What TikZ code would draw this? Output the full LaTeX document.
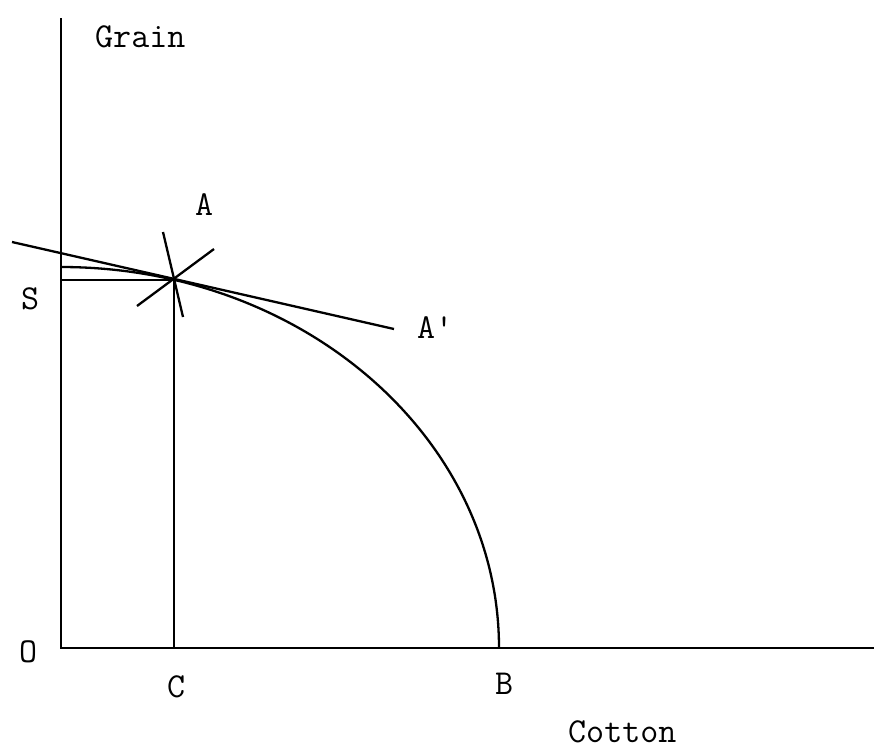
\documentclass[tikz,border=0pt]{standalone}
\begin{document}
\begin{tikzpicture}[x=1pt,y=-1pt,
  axis/.style={line width=2.8pt},
  curve/.style={line width=2.3pt},
  lab/.style={anchor=base west,inner sep=0pt,font=\fontsize{35}{40}\selectfont\ttfamily}]
\useasboundingbox (0,0) rectangle (874,750);
% points
\coordinate (O) at (61,648);
\coordinate (Ytop) at (61,18);
\coordinate (Xend) at (874,648);
\coordinate (A) at (174,280);
\coordinate (Cpt) at (174,648);
\coordinate (Spt) at (61,280);
\coordinate (Top) at (61,267);
\coordinate (Bpt) at (499,648);
\coordinate (Tl) at (12,242);
\coordinate (Tr) at (394,329);
\coordinate (X1a) at (137,306);
\coordinate (X1b) at (214,249);
\coordinate (X2a) at (163,232);
\coordinate (X2b) at (183,317);
% axes
\draw[axis] (Ytop) -- (O) -- (Xend);
% frontier
\draw[curve] (Top) arc[start angle=90,end angle=0,x radius=438pt,y radius=381pt];
% guides
\draw[curve] (Spt) -- (A) -- (Cpt);
% tangent line
\draw[curve] (Tl) -- (Tr);
% cross
\draw[curve] (X1a) -- (X1b);
\draw[curve] (X2a) -- (X2b);
% labels
\node[lab] (grain) at (95,47) {Grain};
\node[lab] (alab) at (195,215) {A};
\node[lab] (slab) at (21,309) {S};
\node[lab] (aplab) at (417,338) {A\textquotesingle};
\node[lab] (olab) at (19,662) {O};
\node[lab] (clab) at (167,697) {C};
\node[lab] (blab) at (495,694) {B};
\node[lab] (cotton) at (568,742) {Cotton};
\end{tikzpicture}
\end{document}
